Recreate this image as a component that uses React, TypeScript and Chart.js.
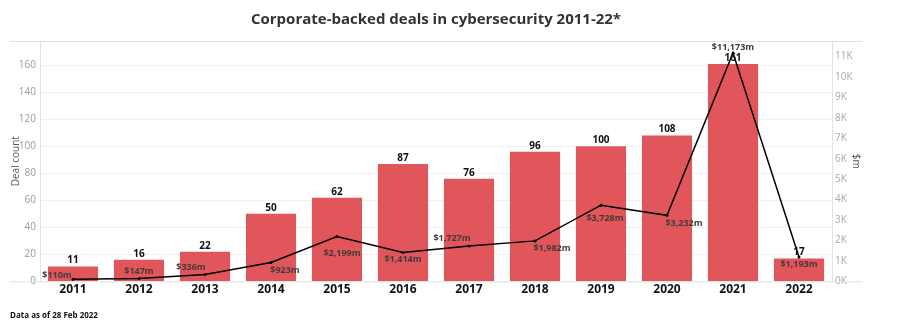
import React, { useEffect, useRef } from "react";
import { Chart, registerables } from "chart.js";

Chart.register(...registerables);

const YEARS = ["2011", "2012", "2013", "2014", "2015", "2016", "2017", "2018", "2019", "2020", "2021", "2022"];
const DEAL_COUNT = [11, 16, 22, 50, 62, 87, 76, 96, 100, 108, 161, 17];
const FUNDING_M = [110, 147, 336, 923, 2199, 1414, 1727, 1982, 3728, 3232, 11173, 1193];
const FUNDING_LABELS = ["$110m", "$147m", "$336m", "$923m", "$2,199m", "$1,414m", "$1,727m", "$1,982m", "$3,728m", "$3,232m", "$11,173m", "$1,193m"];
const LEFT_TICKS = [0, 20, 40, 60, 80, 100, 120, 140, 160];
const RIGHT_TICKS = [0, 1000, 2000, 3000, 4000, 5000, 6000, 7000, 8000, 9000, 10000, 11000];
const RIGHT_TICK_LABELS = ["0K", "1K", "2K", "3K", "4K", "5K", "6K", "7K", "8K", "9K", "10K", "11K"];

// label placement offsets (style only)
const LINE_LABEL_OFFSETS: [number, number][] = [
  [-16, -4], [0, -7], [-14, -7], [14, 8], [5, 17], [0, 7],
  [-17, -8], [17, 8], [4, 13], [17, 8], [0, -6], [0, 7],
];

const FONT = "'Open Sans', sans-serif";

const frame = {
  id: "frame",
  beforeDatasetsDraw(chart: any) {
    const { ctx, chartArea } = chart;
    const yl = chart.scales.y;
    const yr = chart.scales.y1;
    ctx.save();
    ctx.strokeStyle = "#e2e2e2";
    ctx.lineWidth = 1;
    ctx.beginPath();
    ctx.moveTo(yl.left, chartArea.top + 0.5);
    ctx.lineTo(yr.right, chartArea.top + 0.5);
    ctx.moveTo(yl.left, chartArea.bottom + 0.5);
    ctx.lineTo(yr.right, chartArea.bottom + 0.5);
    ctx.moveTo(chartArea.left + 0.5, chartArea.top);
    ctx.lineTo(chartArea.left + 0.5, chartArea.bottom);
    ctx.moveTo(chartArea.right + 0.5, chartArea.top);
    ctx.lineTo(chartArea.right + 0.5, chartArea.bottom);
    ctx.stroke();
    ctx.restore();
  },
};

const labels = {
  id: "labels",
  afterDatasetsDraw(chart: any) {
    const { ctx } = chart;
    ctx.save();
    ctx.textAlign = "center";
    ctx.textBaseline = "middle";
    const lineMeta = chart.getDatasetMeta(1);
    ctx.font = `bold 9px ${FONT}`;
    ctx.fillStyle = "#45393a";
    lineMeta.data.forEach((pt: any, i: number) => {
      const [dx, dy] = LINE_LABEL_OFFSETS[i];
      ctx.fillText(FUNDING_LABELS[i], pt.x + dx, pt.y + dy);
    });
    const barMeta = chart.getDatasetMeta(0);
    ctx.font = `bold 10px ${FONT}`;
    ctx.fillStyle = "#111";
    barMeta.data.forEach((bar: any, i: number) => {
      ctx.fillText(String(DEAL_COUNT[i]), bar.x, bar.y - 6);
    });
    ctx.restore();
  },
};

export default function App() {
  const ref = useRef<HTMLCanvasElement>(null);
  useEffect(() => {
    document.body.style.margin = "0";
    const chart = new Chart(ref.current!, {
      data: {
        labels: YEARS,
        datasets: [
          {
            type: "bar",
            label: "Deal count",
            data: DEAL_COUNT,
            backgroundColor: "#e0565b",
            barPercentage: 0.76,
            categoryPercentage: 1,
            yAxisID: "y",
            order: 2,
          },
          {
            type: "line",
            label: "$m",
            data: FUNDING_M,
            borderColor: "#000",
            borderWidth: 1.5,
            pointRadius: 1.5,
            pointBackgroundColor: "#000",
            pointBorderWidth: 0,
            yAxisID: "y1",
            order: 1,
            tension: 0,
          },
        ],
      },
      options: {
        animation: false,
        responsive: false,
        layout: { padding: { left: 10, right: 38, top: 0, bottom: 0 } },
        plugins: {
          legend: { display: false },
          tooltip: { enabled: false },
          title: {
            display: true,
            text: "Corporate-backed deals in cybersecurity 2011-22*",
            color: "#333",
            font: { family: FONT, size: 15, weight: "bold" },
            padding: { top: 11, bottom: 12 },
          },
          subtitle: {
            display: true,
            position: "bottom",
            align: "start",
            text: "Data as of 28 Feb 2022",
            color: "#111",
            font: { family: FONT, size: 8, weight: "bold" },
            padding: { top: 4, bottom: 13 },
          },
        },
        scales: {
          x: {
            grid: { display: false, drawTicks: false },
            border: { display: false },
            ticks: { color: "#111", font: { family: FONT, size: 12, weight: "bold" }, padding: 1 },
            afterFit(s: any) { s.height = 26; },
          },
          y: {
            position: "left",
            min: 0,
            max: 178,
            grid: { color: "#f0f0f0", drawTicks: false },
            border: { display: false },
            afterBuildTicks(s: any) { s.ticks = LEFT_TICKS.map((v) => ({ value: v })); },
            ticks: { autoSkip: false, color: "#999", font: { family: FONT, size: 10 }, padding: 4 },
            title: { display: true, text: "Deal count", color: "#555", font: { family: FONT, size: 10 }, padding: { top: 0, bottom: 2 } },
            afterFit(s: any) { s.width = 30; },
          },
          y1: {
            position: "right",
            min: 0,
            max: 11760,
            grid: { display: false, drawTicks: false },
            border: { display: false },
            afterBuildTicks(s: any) { s.ticks = RIGHT_TICKS.map((v) => ({ value: v })); },
            ticks: {
              autoSkip: false,
              color: "#aaa",
              font: { family: FONT, size: 10 },
              padding: 3,
              callback: (v: any, i: number) => RIGHT_TICK_LABELS[i],
            },
            title: { display: true, text: "$m", color: "#555", font: { family: FONT, size: 10 }, padding: 0 },
            afterFit(s: any) { s.width = 30; },
          },
        },
      },
      plugins: [frame, labels],
    } as any);
    return () => chart.destroy();
  }, []);
  return (
    <div style={{ width: 900, height: 334 }}>
      <canvas ref={ref} width={900} height={334} style={{ display: "block" }} />
    </div>
  );
}
